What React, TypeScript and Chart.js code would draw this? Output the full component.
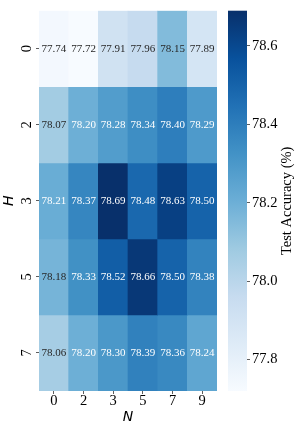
import React, { useEffect, useRef } from 'react';
import { Chart, registerables } from 'chart.js';

Chart.register(...registerables);

// ---- data ----
const H_LABELS = ['0', '2', '3', '5', '7'];
const N_LABELS = ['0', '2', '3', '5', '7', '9'];
const ROW_H0 = [77.74, 77.72, 77.91, 77.96, 78.15, 77.89];
const ROW_H2 = [78.07, 78.2, 78.28, 78.34, 78.4, 78.29];
const ROW_H3 = [78.21, 78.37, 78.69, 78.48, 78.63, 78.5];
const ROW_H5 = [78.18, 78.33, 78.52, 78.66, 78.5, 78.38];
const ROW_H7 = [78.06, 78.2, 78.3, 78.39, 78.36, 78.24];
const ROWS = [ROW_H0, ROW_H2, ROW_H3, ROW_H5, ROW_H7];
const CBAR_TICKS = [77.8, 78.0, 78.2, 78.4, 78.6];
const VMIN = 77.72;
const VMAX = 78.69;
const CBAR_TITLE = 'Test Accuracy (%)';
const X_TITLE = 'N';
const Y_TITLE = 'H';

// matplotlib "Blues"
const BLUES = ['#f7fbff', '#deebf7', '#c6dbef', '#9ecae1', '#6baed6', '#4292c6', '#2171b5', '#08519c', '#08306b'];

const SERIF = '"Liberation Serif", "Times New Roman", serif';
const SANS = '"DejaVu Sans", sans-serif';

function hexToRgb(h: string): number[] {
  const n = parseInt(h.slice(1), 16);
  return [(n >> 16) & 255, (n >> 8) & 255, n & 255];
}
function blues(t: number): number[] {
  const c = Math.max(0, Math.min(1, t)) * (BLUES.length - 1);
  const i = Math.min(BLUES.length - 2, Math.floor(c));
  const f = c - i;
  const a = hexToRgb(BLUES[i]);
  const b = hexToRgb(BLUES[i + 1]);
  return a.map((v, k) => Math.round(v + (b[k] - v) * f));
}
function colorOf(v: number): string {
  const [r, g, b] = blues((v - VMIN) / (VMAX - VMIN));
  return `rgb(${r},${g},${b})`;
}
function luminance(v: number): number {
  const rgb = blues((v - VMIN) / (VMAX - VMIN)).map((c) => {
    const s = c / 255;
    return s <= 0.03928 ? s / 12.92 : Math.pow((s + 0.055) / 1.055, 2.4);
  });
  return 0.2126 * rgb[0] + 0.7152 * rgb[1] + 0.0722 * rgb[2];
}

const heatPlugin = {
  id: 'heatExtras',
  afterDatasetsDraw(chart: any) {
    const ctx = chart.ctx;
    ctx.save();
    ctx.font = `11px ${SERIF}`;
    ctx.textAlign = 'center';
    ctx.textBaseline = 'middle';
    ROWS.forEach((row, r) => {
      const meta = chart.getDatasetMeta(r);
      meta.data.forEach((bar: any, c: number) => {
        const { x, y } = bar.getCenterPoint();
        ctx.fillStyle = luminance(row[c]) > 0.408 ? '#262626' : '#ffffff';
        ctx.fillText(row[c].toFixed(2), x, y);
      });
    });
    ctx.restore();
  },
  afterDraw(chart: any) {
    const ctx = chart.ctx;
    const yS = chart.scales.y;
    const sp = chart.scales.sp;
    const cb = chart.scales.cb;
    ctx.save();
    // y tick labels (rotated)
    ctx.font = `14.5px ${SERIF}`;
    ctx.fillStyle = '#000';
    ctx.textAlign = 'center';
    ctx.textBaseline = 'middle';
    H_LABELS.forEach((lab, i) => {
      const y = yS.getPixelForValue(i + 0.5);
      ctx.save();
      ctx.translate(yS.right - 12, y);
      ctx.rotate(-Math.PI / 2);
      ctx.fillText(lab, 0, 0);
      ctx.restore();
    });
    // colorbar
    const x0 = sp.left + 11;
    const x1 = sp.right;
    const yTop = cb.getPixelForValue(VMAX);
    const yBot = cb.getPixelForValue(VMIN);
    const grad = ctx.createLinearGradient(0, yBot, 0, yTop);
    BLUES.forEach((c, i) => grad.addColorStop(i / (BLUES.length - 1), c));
    ctx.fillStyle = grad;
    ctx.fillRect(x0, yTop, x1 - x0, yBot - yTop);
    // colorbar title
    ctx.fillStyle = '#000';
    ctx.font = `14.5px ${SERIF}`;
    ctx.save();
    ctx.translate(cb.left + 40, (cb.top + cb.bottom) / 2);
    ctx.rotate(-Math.PI / 2);
    ctx.fillText(CBAR_TITLE, 0, 0);
    ctx.restore();
    ctx.restore();
  },
};

export default function App() {
  const ref = useRef<HTMLCanvasElement | null>(null);
  useEffect(() => {
    if (!ref.current) return;
    const chart = new Chart(ref.current, {
      type: 'bar',
      data: {
        labels: N_LABELS,
        datasets: ROWS.map((row, r) => ({
          label: 'H=' + H_LABELS[r],
          data: row.map(() => 1),
          backgroundColor: row.map(colorOf),
          borderWidth: 0,
          barPercentage: 1,
          categoryPercentage: 1,
          stack: 'heat',
        })),
      },
      options: {
        responsive: false,
        animation: false,
        events: [],
        layout: { padding: { top: 5, left: 0, right: 0, bottom: 0 } },
        plugins: { legend: { display: false }, tooltip: { enabled: false } },
        scales: {
          x: {
            type: 'category',
            stacked: true,
            position: 'bottom',
            grid: { display: true, offset: false, drawOnChartArea: false, drawTicks: true, tickLength: 3, color: '#333', lineWidth: 0.8 },
            border: { display: false },
            ticks: { color: '#000', font: { family: SERIF, size: 14.5, lineHeight: 1 }, padding: 0 },
            title: { display: true, text: X_TITLE, color: '#000', font: { family: SANS, size: 14, style: 'italic', lineHeight: 1.2 }, padding: { top: 0, bottom: 4 } },
            afterFit: (s: any) => { s.height = 39; },
          },
          y: {
            type: 'linear',
            stacked: true,
            position: 'left',
            reverse: true,
            min: 0,
            max: H_LABELS.length,
            afterBuildTicks: (s: any) => { s.ticks = H_LABELS.map((_, i) => ({ value: i + 0.5 })); },
            grid: { display: true, drawOnChartArea: false, drawTicks: true, tickLength: 3, color: '#333', lineWidth: 0.8 },
            border: { display: false },
            ticks: { display: false },
            title: { display: true, text: Y_TITLE, color: '#000', font: { family: SANS, size: 14, style: 'italic', lineHeight: 1.2 }, padding: { top: 1, bottom: 0 } },
            afterFit: (s: any) => { s.width = 39; },
          },
          sp: {
            type: 'linear',
            position: 'right',
            weight: 0,
            display: true,
            grid: { display: false, drawTicks: false },
            border: { display: false },
            ticks: { display: false },
            afterFit: (s: any) => { s.width = 30; },
          },
          cb: {
            type: 'linear',
            position: 'right',
            weight: 1,
            min: VMIN,
            max: VMAX,
            afterBuildTicks: (s: any) => { s.ticks = CBAR_TICKS.map((v) => ({ value: v })); },
            grid: { display: true, drawOnChartArea: false, drawTicks: true, tickLength: 3, color: '#333', lineWidth: 0.8 },
            border: { display: false },
            ticks: { color: '#000', font: { family: SERIF, size: 14.5 }, padding: 2, callback: (v: any) => Number(v).toFixed(1) },
            afterFit: (s: any) => { s.width = 52; },
          },
        },
      } as any,
      plugins: [heatPlugin],
    });
    return () => chart.destroy();
  }, []);
  return (
    <div style={{ position: 'fixed', left: 0, top: 0, width: 299, height: 430, background: '#fff' }}>
      <canvas ref={ref} width={299} height={430} style={{ width: 299, height: 430, display: 'block' }} />
    </div>
  );
}
